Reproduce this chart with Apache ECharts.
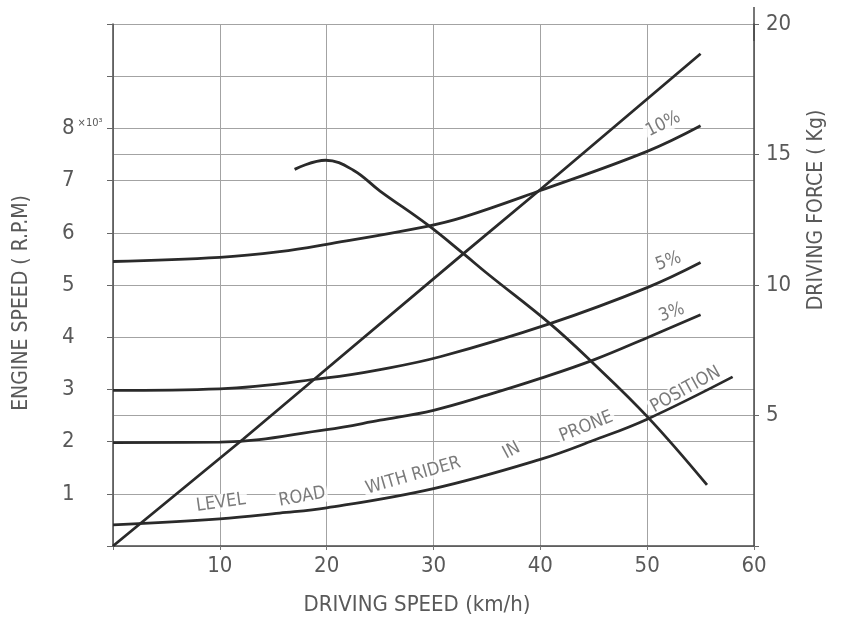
<!DOCTYPE html>
<html>
<head>
<meta charset="utf-8">
<script src="https://cdn.jsdelivr.net/npm/echarts@6/dist/echarts.min.js"></script>
<style>
  html, body { margin: 0; padding: 0; background: #fff; }
  #chart { width: 841px; height: 624px; }
</style>
</head>
<body>
<div id="chart"></div>
<script>
// Driving speed (km/h) vs engine speed (x10^3 rpm, left) and driving force (kg, right)

// Engine speed in top gear, rpm x 10^3
const engineSpeed = [[0, 0], [12.2, 2.05], [18.7, 3.17], [32.8, 5.6], [40, 6.83], [55, 9.43]];

// Running resistance, kg
const levelRoad = [[0, 0.81], [10, 1.04], [15.6, 1.26], [20, 1.46], [30, 2.2], [40, 3.32], [45, 4.05], [50, 4.86], [58, 6.48]];
const grade3 = [[0, 3.96], [10, 3.98], [20, 4.46], [25, 4.82], [30, 5.2], [35, 5.78], [40, 6.42], [45, 7.13], [50, 7.98], [55, 8.86]];
const grade5 = [[0, 5.96], [10, 6.02], [20, 6.44], [25, 6.76], [30.7, 7.26], [40.9, 8.52], [50, 9.9], [55, 10.86]];
const grade10 = [[0, 10.9], [10, 11.06], [15.6, 11.28], [20, 11.56], [29.4, 12.25], [32.8, 12.6], [40, 13.62], [50, 15.12], [55, 16.1]];

// Available driving force, kg
const drivingForce = [[17, 14.43], [19.9, 14.78], [22.5, 14.4], [25, 13.6], [29.4, 12.32], [32.8, 11.2], [35, 10.45], [40.9, 8.52], [44.7, 7.1], [50.1, 4.92], [55.6, 2.34]];

// Curve captions: text, speed, force (kg), angle
const captionText = ['10%', '5%', '3%', 'LEVEL', 'ROAD', 'WITH RIDER', 'IN', 'PRONE', 'POSITION'];
const captionSpeed = [51.5, 52.0, 52.3, 10.1, 17.7, 28.1, 37.3, 44.3, 53.6];
const captionForce = [16.16, 10.9, 8.94, 1.65, 1.88, 2.69, 3.65, 4.57, 5.99];
const captionAngle = [27, 20, 20, 8, 10, 16, 28, 22, 29];

// Axis tick labels
const rpmLabels = [1, 2, 3, 4, 5, 6, 7, 8];
const forceLabels = [5, 10, 15, 20];
const speedLabels = [10, 20, 30, 40, 50, 60];

const FONT = "'DejaVu Sans Condensed', 'Liberation Sans Narrow', 'Roboto', sans-serif";
const TXT = '#595959';
const INK = '#2a2a2a';
const GRID = '#a3a3a3';

const chart = echarts.init(document.getElementById('chart'), null, { renderer: 'canvas' });

function curve(name, data, yIdx) {
  return {
    name, type: 'line', data, yAxisIndex: yIdx,
    smooth: 0.4,
    symbol: 'none', silent: true,
    lineStyle: { color: INK, width: 2.8 },
    z: 3
  };
}

const captions = captionText.map((t, i) => ({
  value: [captionSpeed[i], captionForce[i]],
  label: {
    show: true, formatter: t, rotate: captionAngle[i], position: 'inside',
    color: TXT, fontFamily: FONT, fontSize: 18,
    backgroundColor: '#fff', padding: [0, 2]
  }
}));

chart.setOption({
  animation: false,
  backgroundColor: '#fff',
  grid: { left: 113, right: 87, top: 24, bottom: 78, containLabel: false, outerBoundsMode: 'none' },
  xAxis: {
    type: 'value', min: 0, max: 60, interval: 10,
    axisLine: { show: true, onZero: false, lineStyle: { color: '#4a4a4a', width: 1.5 } },
    axisTick: { show: true, length: 4, lineStyle: { color: '#777' } },
    splitLine: { show: true, lineStyle: { color: GRID, width: 1 } },
    axisLabel: {
      margin: 9, color: TXT, fontFamily: FONT, fontSize: 22,
      formatter: v => speedLabels.includes(v) ? String(v) : ''
    }
  },
  yAxis: [
    {
      type: 'value', min: 0, max: 10, interval: 1, position: 'left',
      axisLine: { show: true, onZero: false, lineStyle: { color: '#4a4a4a', width: 1.5 } },
      axisTick: { show: true, length: 6, lineStyle: { color: '#666' } },
      splitLine: { show: true, lineStyle: { color: GRID, width: 1 } },
      axisLabel: {
        align: 'left', margin: 51, color: TXT, fontFamily: FONT, fontSize: 22,
        formatter: v => {
          if (!rpmLabels.includes(v)) return '';
          return v === 8 ? '8{s|×10³}' : String(v);
        },
        rich: { s: { fontFamily: FONT, fontSize: 11, color: TXT, padding: [0, 0, 10, 3] } }
      }
    },
    {
      type: 'value', min: 0, max: 20, interval: 5, position: 'right',
      axisLine: {
        show: true, onZero: false, lineStyle: { color: '#4a4a4a', width: 1.5 },
        symbol: ['none', 'rect'], symbolSize: [1.5, 34]
      },
      axisTick: { show: true, length: 5, lineStyle: { color: '#666' } },
      splitLine: { show: true, lineStyle: { color: GRID, width: 1 } },
      axisLabel: {
        margin: 12, color: TXT, fontFamily: FONT, fontSize: 22,
        formatter: v => forceLabels.includes(v) ? String(v) : ''
      }
    }
  ],
  graphic: [
    {
      type: 'text', x: 22, y: 303, rotation: Math.PI / 2,
      style: { text: 'ENGINE SPEED ( R.P.M)', fill: TXT, font: `21px ${FONT}`, align: 'center', verticalAlign: 'middle' }
    },
    {
      type: 'text', x: 817, y: 210, rotation: Math.PI / 2,
      style: { text: 'DRIVING FORCE ( Kg)', fill: TXT, font: `21px ${FONT}`, align: 'center', verticalAlign: 'middle' }
    },
    {
      type: 'text', x: 417, y: 605,
      style: { text: 'DRIVING SPEED (km/h)', fill: TXT, font: `22px ${FONT}`, align: 'center', verticalAlign: 'middle' }
    }
  ],
  series: [
    Object.assign(curve('Engine speed', engineSpeed, 0), { smooth: false }),
    curve('Level road, rider prone', levelRoad, 1),
    curve('3%', grade3, 1),
    curve('5%', grade5, 1),
    curve('10%', grade10, 1),
    curve('Driving force', drivingForce, 1),
    {
      name: 'captions', type: 'scatter', yAxisIndex: 1, symbolSize: 0, silent: true,
      data: captions, z: 2
    }
  ]
});
</script>
</body>
</html>
